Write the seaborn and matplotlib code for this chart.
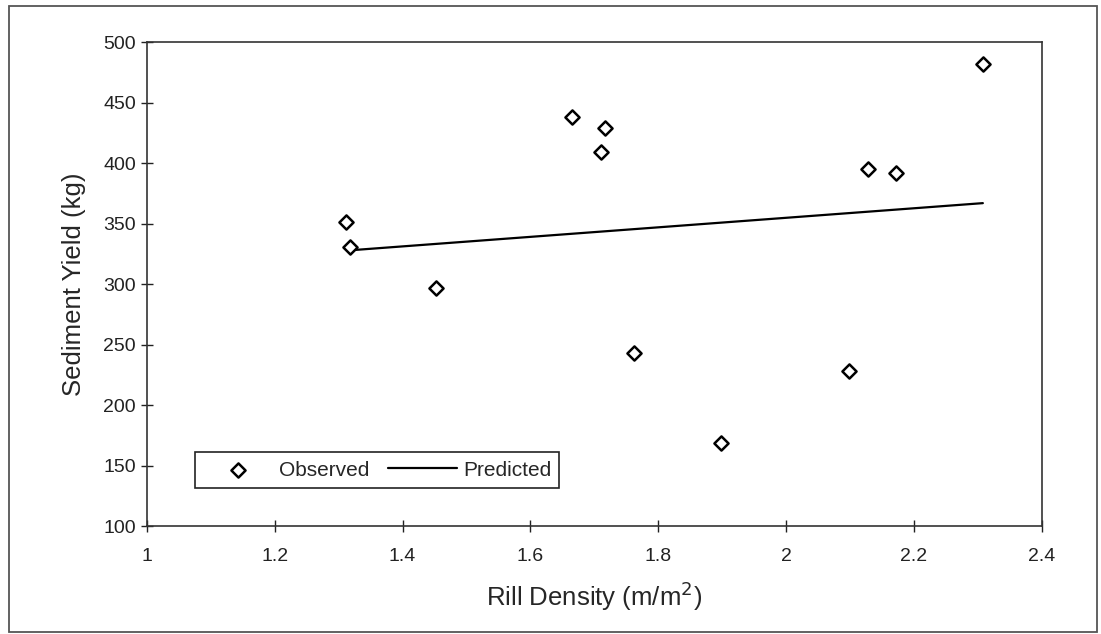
import matplotlib
matplotlib.use('Agg')

import pandas as pd
import matplotlib.pyplot as plt
import seaborn as sns
from matplotlib.patches import Rectangle

# DATA
rill_density = [1.311, 1.318, 1.452, 1.665, 1.716, 1.710, 1.762, 1.898, 2.099, 2.128, 2.172, 2.308]
sediment_yield = [351, 331, 297, 438, 429, 409, 243, 169, 228, 395, 392, 482]
pred_x = [1.318, 2.308]
pred_y = [328, 367]
x_ticks = [1, 1.2, 1.4, 1.6, 1.8, 2, 2.2, 2.4]
x_tick_labels = ["1", "1.2", "1.4", "1.6", "1.8", "2", "2.2", "2.4"]
y_ticks = [100, 150, 200, 250, 300, 350, 400, 450, 500]

obs = pd.DataFrame({"Rill": rill_density, "Yield": sediment_yield})
pred = pd.DataFrame({"Rill": pred_x, "Yield": pred_y})

sns.set_style("ticks")
plt.rcParams["font.family"] = ["Liberation Sans", "DejaVu Sans"]

fig = plt.figure(figsize=(11.01, 6.34), dpi=100)
ax = fig.add_axes([0.1335, 0.1703, 0.8126, 0.7630])

sns.lineplot(data=pred, x="Rill", y="Yield", ax=ax, color="black",
             linewidth=1.6, label="Predicted")
sns.scatterplot(data=obs, x="Rill", y="Yield", ax=ax, marker="D", s=52,
                facecolor="white", edgecolor="black", linewidth=1.8,
                label="Observed", zorder=3)

ax.set_xlim(1, 2.4)
ax.set_ylim(100, 500)
ax.set_xticks(x_ticks)
ax.set_xticklabels(x_tick_labels)
ax.set_yticks(y_ticks)
ax.tick_params(direction="inout", length=8, width=1, labelsize=14,
               colors="#222222", pad=4)
ax.tick_params(axis="x", pad=12)
for sp in ax.spines.values():
    sp.set_visible(True)
    sp.set_linewidth(1.2)
    sp.set_color("#333333")

ax.set_xlabel("Rill Density (m/m$^2$)", fontsize=18.5, labelpad=10)
ax.set_ylabel("Sediment Yield (kg)", fontsize=18.5, labelpad=12)

handles, labels = ax.get_legend_handles_labels()
order = [labels.index("Observed"), labels.index("Predicted")]
leg = ax.legend([handles[i] for i in order], [labels[i] for i in order],
                loc="center", bbox_to_anchor=(0.058, 0.062, 0.399, 0.1075),
                ncol=2, fancybox=False, framealpha=1, edgecolor="#222222",
                fontsize=15, handlelength=3.3, handletextpad=0.3,
                columnspacing=0.9, borderaxespad=0)
leg.get_frame().set_linewidth(1.2)

# outer border of the figure
fig.patches.append(Rectangle((0.008, 0.003), 0.988, 0.987, transform=fig.transFigure,
                             fill=False, edgecolor="#555555", linewidth=1.3))

plt.savefig("out.png", dpi=100)
plt.close()
